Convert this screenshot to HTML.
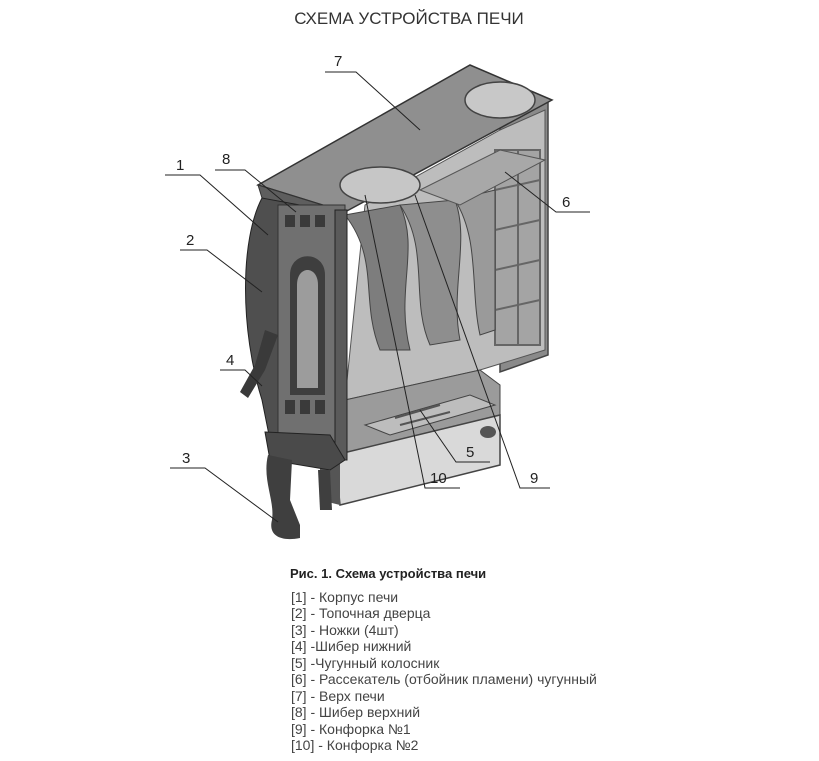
<!DOCTYPE html>
<html><head><meta charset="utf-8"><style>
html,body{margin:0;padding:0;background:#fff;width:819px;height:761px;overflow:hidden}
svg{position:absolute;left:0;top:0}
.t{font-family:"Liberation Sans","DejaVu Sans",sans-serif}
</style></head><body>
<svg width="819" height="761" viewBox="0 0 819 761" xmlns="http://www.w3.org/2000/svg">
<text x="409" y="24" text-anchor="middle" class="t" font-size="17" fill="#333">СХЕМА УСТРОЙСТВА ПЕЧИ</text>

<polygon points="470,70 548,100 548,355 500,372 500,120" fill="#8a8a8a" stroke="#444" stroke-width="1.5"/>
<polygon points="365,205 500,130 545,110 545,350 480,370 345,400" fill="#bdbdbd" stroke="#555"/>
<g stroke="#666" stroke-width="2" fill="#a4a4a4">
<rect x="495" y="150" width="45" height="195"/>
<line x1="495" y1="190" x2="540" y2="180"/><line x1="495" y1="230" x2="540" y2="220"/>
<line x1="495" y1="270" x2="540" y2="260"/><line x1="495" y1="310" x2="540" y2="300"/>
<line x1="518" y1="150" x2="518" y2="345"/>
</g>
<path d="M345,215 C380,260 360,300 380,350 L410,350 C395,290 420,250 400,205 Z" fill="#7d7d7d" stroke="#444"/>
<path d="M400,205 C430,250 410,300 430,345 L460,340 C450,290 470,240 455,200 Z" fill="#8e8e8e" stroke="#444"/>
<path d="M455,200 C480,240 470,290 480,335 L495,330 L495,190 Z" fill="#9a9a9a" stroke="#444"/>
<polygon points="258,185 470,65 552,100 345,212" fill="#8f8f8f" stroke="#333" stroke-width="1.5"/>
<polygon points="258,185 345,212 345,222 262,198" fill="#5e5e5e" stroke="#333"/>
<ellipse cx="500" cy="100" rx="35" ry="18" fill="#c8c8c8" stroke="#444" stroke-width="1.5"/>
<ellipse cx="380" cy="185" rx="40" ry="18" fill="#c6c6c6" stroke="#444" stroke-width="1.5"/>
<polygon points="420,190 500,150 545,160 460,205" fill="#a8a8a8" stroke="#555"/>
<polygon points="345,400 480,370 500,385 500,420 345,455" fill="#9b9b9b" stroke="#444"/>
<polygon points="365,425 470,395 495,405 390,435" fill="#bdbdbd" stroke="#444"/>
<g stroke="#555" stroke-width="2"><line x1="395" y1="418" x2="440" y2="405"/><line x1="400" y1="425" x2="450" y2="412"/></g>
<polygon points="335,455 500,415 500,465 340,505" fill="#d9d9d9" stroke="#444" stroke-width="1.5"/>
<polygon points="320,455 340,460 340,505 320,500" fill="#555"/>
<path d="M262,198 C240,240 240,330 262,400 L270,440 L300,440 L300,205 Z" fill="#4f4f4f" stroke="#222"/>
<rect x="278" y="205" width="67" height="250" fill="#707070" stroke="#333"/>
<path d="M290,275 C290,250 325,250 325,275 L325,395 L290,395 Z" fill="#3e3e3e"/>
<path d="M297,285 C297,265 318,265 318,285 L318,388 L297,388 Z" fill="#9c9c9c"/>
<g fill="#3a3a3a"><rect x="285" y="215" width="10" height="12"/><rect x="300" y="215" width="10" height="12"/><rect x="315" y="215" width="10" height="12"/>
<rect x="285" y="400" width="10" height="14"/><rect x="300" y="400" width="10" height="14"/><rect x="315" y="400" width="10" height="14"/></g>
<rect x="335" y="210" width="12" height="250" fill="#5a5a5a" stroke="#222"/>
<path d="M265,330 L278,335 L265,370 L248,398 L240,392 L255,365 Z" fill="#3a3a3a"/>
<polygon points="265,432 330,435 345,460 330,470 270,460" fill="#4a4a4a" stroke="#222"/>
<path d="M268,455 C262,480 275,500 272,520 C268,535 280,542 300,538 L300,525 L290,500 L292,460 Z" fill="#3f3f3f"/>
<path d="M318,470 L330,470 L332,510 L320,510 Z" fill="#3f3f3f"/>
<ellipse cx="488" cy="432" rx="8" ry="6" fill="#555"/>

<g stroke="#222" stroke-width="1" fill="none">
<polyline points="165,175 200,175 268,235"/>
<polyline points="215,170 245,170 296,212"/>
<polyline points="180,250 207,250 262,292"/>
<polyline points="220,370 245,370 262,386"/>
<polyline points="170,468 205,468 278,522"/>
<polyline points="325,72 356,72 420,130"/>
<polyline points="590,212 556,212 505,172"/>
<polyline points="490,462 456,462 420,410"/>
<polyline points="460,488 425,488 365,195"/>
<polyline points="550,488 520,488 415,195"/>
</g>
<g class="t" font-size="15" fill="#222">
<text x="176" y="170">1</text><text x="222" y="164">8</text><text x="186" y="245">2</text>
<text x="226" y="365">4</text><text x="182" y="463">3</text><text x="334" y="66">7</text>
<text x="562" y="207">6</text><text x="466" y="457">5</text><text x="430" y="483">10</text>
<text x="530" y="483">9</text>
</g>

<text x="290" y="578" class="t" font-size="13" font-weight="bold" fill="#222">Рис. 1. Схема устройства печи</text>
<g class="t" font-size="14" fill="#444">
<text x="291" y="602">[1] - Корпус печи</text>
<text x="291" y="618">[2] - Топочная дверца</text>
<text x="291" y="635">[3] - Ножки (4шт)</text>
<text x="291" y="651">[4] -Шибер нижний</text>
<text x="291" y="668">[5] -Чугунный колосник</text>
<text x="291" y="684">[6] - Рассекатель (отбойник пламени) чугунный</text>
<text x="291" y="701">[7] - Верх печи</text>
<text x="291" y="717">[8] - Шибер верхний</text>
<text x="291" y="734">[9] - Конфорка №1</text>
<text x="291" y="750">[10] - Конфорка №2</text>
</g>
</svg>
</body></html>
